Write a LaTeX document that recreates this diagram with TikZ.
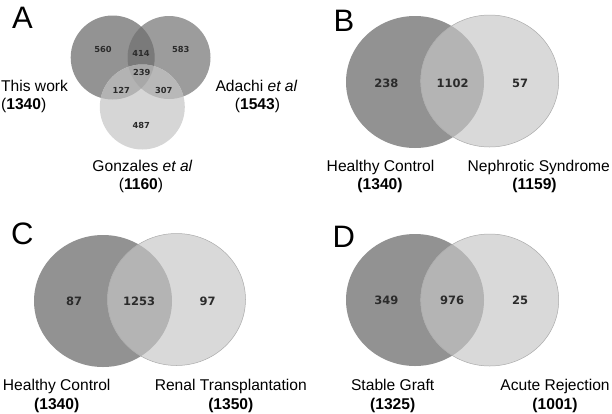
\documentclass[tikz,border=0pt]{standalone}
\usepackage{fontspec}
\setmainfont{Liberation Sans}
\newfontfamily\numfont{DejaVu Sans}
\definecolor{numc}{HTML}{2B2B2B}
\definecolor{aL}{HTML}{939393}
\definecolor{aR}{HTML}{9C9C9C}
\definecolor{aB}{HTML}{D6D6D6}
\definecolor{aLR}{HTML}{7A7A7A}
\definecolor{aLB}{HTML}{B3B3B3}
\definecolor{aRB}{HTML}{B8B8B8}
\definecolor{aLRB}{HTML}{A8A8A8}
\definecolor{dk}{HTML}{929292}
\definecolor{md}{HTML}{B4B4B4}
\definecolor{lt}{HTML}{D9D9D9}
\definecolor{edge}{HTML}{ABABAB}
\begin{document}
\begin{tikzpicture}[x=1pt,y=-1pt,
  lbl/.style={anchor=base,inner sep=0pt,font=\fontsize{15.6}{18}\selectfont},
  lblw/.style={lbl,anchor=base west},
  num/.style={inner sep=0pt,text=numc,font=\numfont\bfseries\fontsize{11.5}{13}\selectfont},
  numa/.style={inner sep=0pt,text=numc,font=\numfont\bfseries\fontsize{8.3}{10}\selectfont},
  letter/.style={anchor=base west,inner sep=0pt,font=\fontsize{31}{34}\selectfont},
  rim/.style={draw=edge,line width=0.5pt}]
\useasboundingbox (0,0) rectangle (612,413);

% ---------- Panel A ----------
\fill[aL] (112.7,57.5) circle[radius=42];
\fill[aR] (169,57.5) circle[radius=41.5];
\fill[aB] (142.3,107) circle[radius=42.5];
\begin{scope}
  \clip (112.7,57.5) circle[radius=42];
  \fill[aLR] (169,57.5) circle[radius=41.5];
  \fill[aLB] (142.3,107) circle[radius=42.5];
\end{scope}
\begin{scope}
  \clip (169,57.5) circle[radius=41.5];
  \fill[aRB] (142.3,107) circle[radius=42.5];
\end{scope}
\begin{scope}
  \clip (112.7,57.5) circle[radius=42];
  \clip (169,57.5) circle[radius=41.5];
  \fill[aLRB] (142.3,107) circle[radius=42.5];
\end{scope}
\node[letter] (lA) at (12,28) {A};
\node[numa] (a560) at (103,49.7) {560};
\node[numa] (a414) at (141,53.7) {414};
\node[numa] (a583) at (180.8,49.7) {583};
\node[numa] (a239) at (141.7,72.3) {239};
\node[numa] (a127) at (121.3,90.7) {127};
\node[numa] (a307) at (163.8,90.7) {307};
\node[numa] (a487) at (141.3,125) {487};
\node[lblw] (tw) at (1,91) {This work};
\node[lblw] (twn) at (1,109) {(\textbf{1340})};
\node[lbl] (ad) at (256.5,91) {Adachi \textit{et al}};
\node[lbl] (adn) at (257.5,109) {(\textbf{1543})};
\node[lbl] (go) at (142.5,171) {Gonzales \textit{et al}};
\node[lbl] (gon) at (141,189.5) {(\textbf{1160})};

% ---------- Panel B ----------
\fill[dk] (415,82) ellipse[x radius=69,y radius=66];
\fill[lt] (489.7,81) ellipse[x radius=69,y radius=66];
\begin{scope}
  \clip (415,82) ellipse[x radius=69,y radius=66];
  \fill[md] (489.7,81) ellipse[x radius=69,y radius=66];
\end{scope}
\draw[rim] (489.7,81) ellipse[x radius=69,y radius=66];
\node[letter] (lB) at (333.5,31.7) {B};
\node[num] (b238) at (386.3,83.2) {238};
\node[num] (b1102) at (452.7,83.2) {1102};
\node[num] (b57) at (520,83.2) {57};
\node[lbl] (bhc) at (380.5,171.7) {Healthy Control};
\node[lbl] (bhcn) at (380,189.5) {\textbf{(1340)}};
\node[lbl] (bns) at (538.8,171.7) {Nephrotic Syndrome};
\node[lbl] (bnsn) at (534.5,189.5) {\textbf{(1159)}};

% ---------- Panel C ----------
\fill[dk] (103,301) ellipse[x radius=69,y radius=66];
\fill[lt] (176.5,299.5) ellipse[x radius=69,y radius=66];
\begin{scope}
  \clip (103,301) ellipse[x radius=69,y radius=66];
  \fill[md] (176.5,299.5) ellipse[x radius=69,y radius=66];
\end{scope}
\draw[rim] (176.5,299.5) ellipse[x radius=69,y radius=66];
\node[letter] (lC) at (11,244.8) {C};
\node[num] (c87) at (74.2,301.7) {87};
\node[num] (c1253) at (139.2,301.7) {1253};
\node[num] (c97) at (207.5,301.7) {97};
\node[lbl] (chc) at (56.7,390.7) {Healthy Control};
\node[lbl] (chcn) at (56.7,409) {\textbf{(1340)}};
\node[lbl] (crt) at (230.8,390.7) {Renal Transplantation};
\node[lbl] (crtn) at (230.8,409) {\textbf{(1350)}};

% ---------- Panel D ----------
\fill[dk] (415,300) ellipse[x radius=69,y radius=66];
\fill[lt] (489.7,300) ellipse[x radius=69,y radius=66];
\begin{scope}
  \clip (415,300) ellipse[x radius=69,y radius=66];
  \fill[md] (489.7,300) ellipse[x radius=69,y radius=66];
\end{scope}
\draw[rim] (489.7,300) ellipse[x radius=69,y radius=66];
\node[letter] (lD) at (332.5,247.2) {D};
\node[num] (d349) at (386.3,300.5) {349};
\node[num] (d976) at (452.2,300.5) {976};
\node[num] (d25) at (520,300.5) {25};
\node[lbl] (dsg) at (392.7,390.7) {Stable Graft};
\node[lbl] (dsgn) at (392.7,409) {\textbf{(1325)}};
\node[lbl] (dar) at (555,390.7) {Acute Rejection};
\node[lbl] (darn) at (555,409) {\textbf{(1001)}};
\end{tikzpicture}
\end{document}
